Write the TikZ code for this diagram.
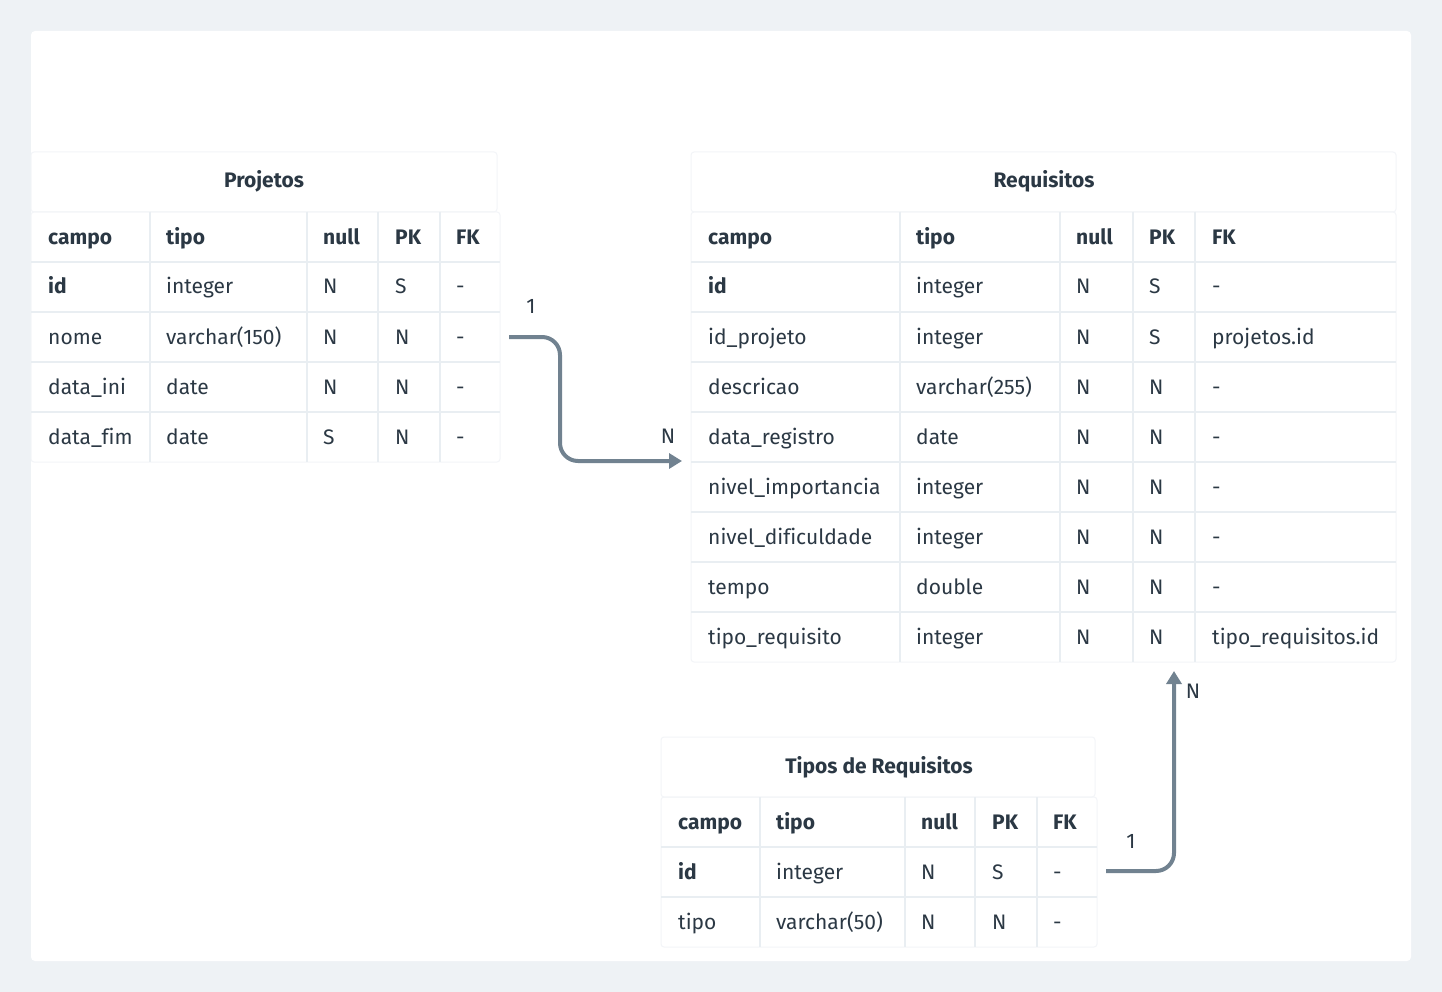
\documentclass[tikz,border=0pt]{standalone}
\usepackage{fontspec}
\setmainfont[Ligatures=NoCommon]{Fira Sans}
\usetikzlibrary{arrows.meta}
\definecolor{bg}{HTML}{EEF2F5}
\definecolor{gridc}{HTML}{E9EEF2}
\definecolor{edgec}{HTML}{F3F5F8}
\definecolor{txt}{HTML}{2B3844}
\definecolor{connc}{HTML}{718290}
\begin{document}
\begin{tikzpicture}[x=1pt,y=-1pt,
  cell/.style={anchor=base west,inner sep=0pt,text=txt,font=\fontsize{21}{24}\selectfont},
  hcell/.style={cell,font=\fontsize{21}{24}\selectfont\bfseries},
  ttl/.style={anchor=base,inner sep=0pt,text=txt,font=\fontsize{21}{24}\selectfont\bfseries},
  gridline/.style={draw=gridc,line width=2.5pt},
  frame/.style={draw=edgec,line width=1pt,rounded corners=3pt},
  conn/.style={draw=connc,line width=4pt,rounded corners=18pt,-{Triangle[length=13pt,width=15pt]}},
  lbl/.style={inner sep=0pt,text=txt,font=\fontsize{21}{24}\selectfont}]

\fill[bg] (0,0) rectangle (1442,992);
\fill[white,rounded corners=4pt] (31,31) rectangle (1411,961);

% ---------------- Projetos ----------------
\draw[frame] (31,152) rectangle (497,212);
\draw[frame] (31,212) rectangle (500,462);
\node[ttl] (ptitle) at (264,188) {Projetos};
\foreach \x in {150,307,378,440} \draw[gridline] (\x,212) -- (\x,462);
\foreach \y in {262,312,362,412} \draw[gridline] (31,\y) -- (500,\y);
\node[hcell] (ph1) at (48,244) {campo};
\node[hcell] (ph2) at (166,244) {tipo};
\node[hcell] (ph3) at (323,244) {null};
\node[hcell] (ph4) at (395,244) {PK};
\node[hcell] (ph5) at (456,244) {FK};
\node[hcell] (p1a) at (48,294) {id};
\foreach \i/\a/\b/\c/\d/\e in {1/{}/integer/N/S/-, 2/nome/varchar(150)/N/N/-, 3/data\_ini/date/N/N/-, 4/data\_fim/date/S/N/-}{
  \pgfmathsetmacro{\yy}{244+50*\i}
  \node[cell] (pa\i) at (48,\yy) {\a};
  \node[cell] (pb\i) at (166,\yy) {\b};
  \node[cell] (pc\i) at (323,\yy) {\c};
  \node[cell] (pd\i) at (395,\yy) {\d};
  \node[cell] (pe\i) at (456,\yy) {\e};
}

% ---------------- Requisitos ----------------
\draw[frame] (691,152) rectangle (1396,212);
\draw[frame] (691,212) rectangle (1396,662);
\node[ttl] (rtitle) at (1044,188) {Requisitos};
\foreach \x in {900,1060,1133,1195} \draw[gridline] (\x,212) -- (\x,662);
\foreach \y in {262,312,...,612} \draw[gridline] (691,\y) -- (1396,\y);
\node[hcell] (rh1) at (708,244) {campo};
\node[hcell] (rh2) at (916,244) {tipo};
\node[hcell] (rh3) at (1076,244) {null};
\node[hcell] (rh4) at (1149,244) {PK};
\node[hcell] (rh5) at (1212,244) {FK};
\node[hcell] (r1a) at (708,294) {id};
\foreach \i/\a/\b/\c/\d/\e in {1/{}/integer/N/S/-, 2/id\_projeto/integer/N/S/projetos.id, 3/descricao/varchar(255)/N/N/-, 4/data\_registro/date/N/N/-, 5/nivel\_importancia/integer/N/N/-, 6/nivel\_dificuldade/integer/N/N/-, 7/tempo/double/N/N/-, 8/tipo\_requisito/integer/N/N/tipo\_requisitos.id}{
  \pgfmathsetmacro{\yy}{244+50*\i}
  \node[cell] (ra\i) at (708,\yy) {\a};
  \node[cell] (rb\i) at (916,\yy) {\b};
  \node[cell] (rc\i) at (1076,\yy) {\c};
  \node[cell] (rd\i) at (1149,\yy) {\d};
  \node[cell] (re\i) at (1212,\yy) {\e};
}

% ---------------- Tipos de Requisitos ----------------
\draw[frame] (661,737) rectangle (1095,797);
\draw[frame] (661,797) rectangle (1097,947);
\node[ttl] (ttitle) at (879,773) {Tipos de Requisitos};
\foreach \x in {760,905,975,1037} \draw[gridline] (\x,797) -- (\x,947);
\foreach \y in {847,897} \draw[gridline] (661,\y) -- (1097,\y);
\node[hcell] (th1) at (678,829) {campo};
\node[hcell] (th2) at (776,829) {tipo};
\node[hcell] (th3) at (921,829) {null};
\node[hcell] (th4) at (992,829) {PK};
\node[hcell] (th5) at (1053,829) {FK};
\node[hcell] (t1a) at (678,879) {id};
\foreach \i/\a/\b/\c/\d/\e in {1/{}/integer/N/S/-, 2/tipo/varchar(50)/N/N/-}{
  \pgfmathsetmacro{\yy}{829+50*\i}
  \node[cell] (ta\i) at (678,\yy) {\a};
  \node[cell] (tb\i) at (776,\yy) {\b};
  \node[cell] (tc\i) at (921,\yy) {\c};
  \node[cell] (td\i) at (992,\yy) {\d};
  \node[cell] (te\i) at (1053,\yy) {\e};
}

% ---------------- connectors ----------------
\coordinate (pout) at (509,337);
\coordinate (rin) at (682,461);
\coordinate (tout) at (1106,871);
\coordinate (rbot) at (1174,671);
\draw[conn] (pout) -- (560,337) -- (560,461) -- (rin);
\draw[conn] (tout) -- (1174,871) -- (rbot);
\node[lbl] (l1) at (531,306) {1};
\node[lbl] (l2) at (668,436) {N};
\node[lbl] (l3) at (1131,841) {1};
\node[lbl] (l4) at (1193,691) {N};
\end{tikzpicture}
\end{document}
